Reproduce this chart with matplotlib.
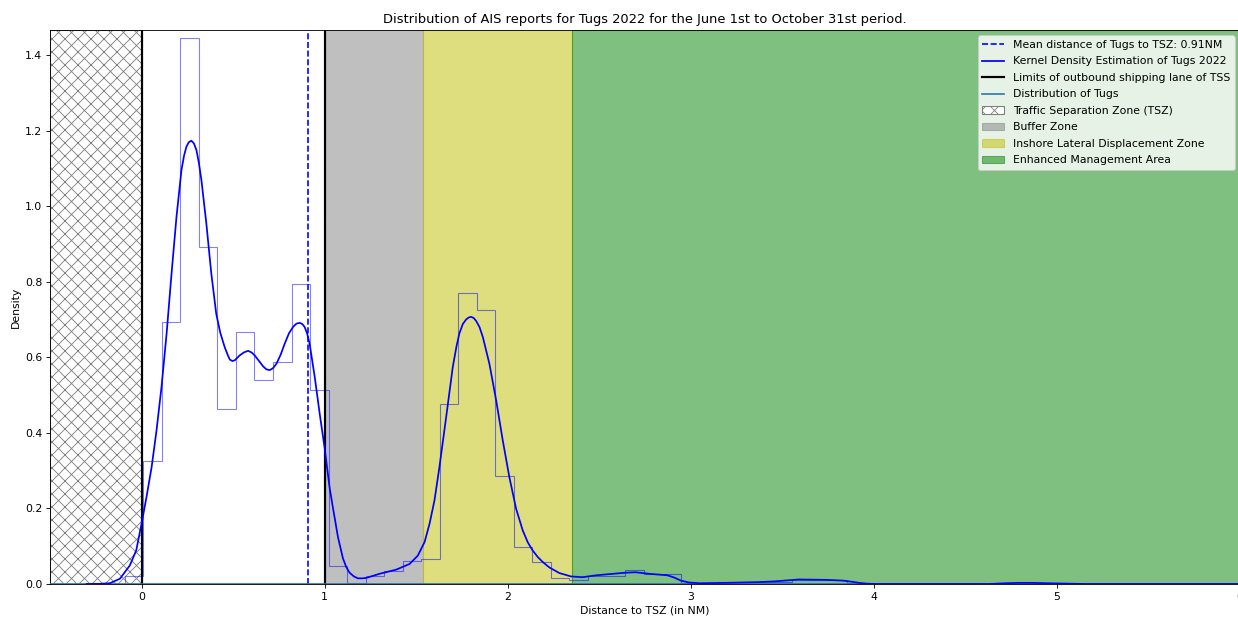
#!/usr/bin/env python3
"""Distribution of AIS reports for Tugs 2022 (June 1st - October 31st) vs distance to TSZ."""

import matplotlib

matplotlib.use("Agg")
import matplotlib.pyplot as plt
import numpy as np

# histogram of distances (density), fixed-width bins
BIN_START = -0.0915
BIN_WIDTH = 0.1012
hist_density = [
    0.020, 0.325, 0.693, 1.445, 0.891, 0.464, 0.667, 0.539, 0.587, 0.793,
    0.514, 0.047, 0.003, 0.021, 0.034, 0.060, 0.066, 0.477, 0.770, 0.724,
    0.287, 0.099, 0.058, 0.016, 0.011, 0.022, 0.022, 0.036, 0.027, 0.027,
    0.002, 0.002, 0.004, 0.004, 0.004, 0.005, 0.011, 0.011, 0.011, 0.002,
    0.0, 0.0, 0.0, 0.0, 0.0, 0.0, 0.001, 0.002, 0.002, 0.002, 0.001,
]

# kernel density estimate
kde_x = [
    -0.30, -0.227, -0.173, -0.118, -0.064, -0.029, 0.0, 0.027, 0.055, 0.082,
    0.109, 0.137, 0.164, 0.191, 0.218, 0.232, 0.245, 0.258, 0.272, 0.286,
    0.300, 0.313, 0.327, 0.354, 0.381, 0.408, 0.430, 0.454, 0.470, 0.482,
    0.496, 0.509, 0.522, 0.536, 0.560, 0.582, 0.600, 0.618, 0.640, 0.664,
    0.682, 0.700, 0.718, 0.737, 0.760, 0.782, 0.805, 0.827, 0.846, 0.864,
    0.878, 0.891, 0.905, 0.918, 0.946, 0.973, 1.000, 1.027, 1.045, 1.073,
    1.100, 1.118, 1.136, 1.160, 1.182, 1.205, 1.227, 1.300, 1.391, 1.464,
    1.509, 1.546, 1.573, 1.600, 1.627, 1.664, 1.700, 1.720, 1.736, 1.755,
    1.773, 1.786, 1.800, 1.814, 1.828, 1.846, 1.864, 1.900, 1.937, 1.973,
    2.009, 2.046, 2.082, 2.110, 2.136, 2.165, 2.192, 2.227, 2.282, 2.346,
    2.409, 2.482, 2.573, 2.646, 2.700, 2.773, 2.873, 2.910, 2.946, 2.990,
    3.046, 3.190, 3.370, 3.460, 3.590, 3.740, 3.830, 3.880, 3.920, 3.960,
    4.010, 4.300, 4.630, 4.720, 4.790, 4.870, 4.950, 5.160, 5.500, 6.000,
]
kde_y = [
    0.0, 0.0005, 0.002, 0.014, 0.049, 0.089, 0.159, 0.230, 0.309, 0.407,
    0.521, 0.663, 0.822, 0.972, 1.095, 1.133, 1.157, 1.169, 1.173, 1.166,
    1.148, 1.115, 1.069, 0.954, 0.822, 0.715, 0.665, 0.627, 0.607, 0.594,
    0.590, 0.592, 0.598, 0.605, 0.613, 0.617, 0.613, 0.605, 0.591, 0.576,
    0.568, 0.566, 0.571, 0.583, 0.607, 0.636, 0.663, 0.680, 0.689, 0.691,
    0.688, 0.680, 0.662, 0.636, 0.548, 0.451, 0.360, 0.256, 0.203, 0.124,
    0.068, 0.045, 0.030, 0.020, 0.015, 0.015, 0.016, 0.027, 0.038, 0.053,
    0.075, 0.111, 0.159, 0.221, 0.309, 0.442, 0.574, 0.628, 0.663, 0.688,
    0.700, 0.705, 0.707, 0.704, 0.696, 0.680, 0.654, 0.583, 0.486, 0.380,
    0.283, 0.199, 0.142, 0.110, 0.089, 0.071, 0.058, 0.044, 0.029, 0.020,
    0.018, 0.023, 0.027, 0.030, 0.031, 0.027, 0.023, 0.017, 0.009, 0.004,
    0.002, 0.003, 0.005, 0.007, 0.012, 0.011, 0.009, 0.006, 0.003, 0.001,
    0.0, 0.0, 0.0, 0.002, 0.003, 0.003, 0.002, 0.0, 0.0, 0.0,
]

mean_distance = 0.91
lane_limits = [0.0, 1.0]
tsz_zone = (-0.5, 0.0)
buffer_zone = (1.0, 1.54)
inshore_zone = (1.54, 2.35)
ema_zone = (2.35, 6.5)

W, H = 1238, 620
DPI = 78.3


def main() -> int:
    plt.rcParams["hatch.linewidth"] = 0.8
    fig = plt.figure(figsize=(W / DPI, H / DPI), dpi=DPI)
    ax = fig.add_axes([50 / W, 36 / H, 1190 / W, 554 / H])

    ax.axvspan(*tsz_zone, facecolor="white", edgecolor="gray", hatch="xx",
               linewidth=1.0, label="Traffic Separation Zone (TSZ)", zorder=0)
    ax.axvspan(*buffer_zone, color="gray", alpha=0.5, label="Buffer Zone", zorder=0)
    ax.axvspan(*inshore_zone, color="y", alpha=0.5, label="Inshore Lateral Displacement Zone", zorder=0)
    ax.axvspan(*ema_zone, color="g", alpha=0.5, label="Enhanced Management Area", zorder=0)

    edges = BIN_START + BIN_WIDTH * np.arange(len(hist_density) + 1)
    ax.stairs(hist_density, edges, color="blue", alpha=0.5, linewidth=1.0, zorder=2)

    ax.axvline(mean_distance, color="blue", linestyle="--", linewidth=1.5,
               label=f"Mean distance of Tugs to TSZ: {mean_distance:.2f}NM", zorder=3)
    ax.plot(kde_x, kde_y, color="blue", linewidth=1.6,
            label="Kernel Density Estimation of Tugs 2022", zorder=4)
    for i, x in enumerate(lane_limits):
        ax.axvline(x, color="black", linewidth=2.0,
                   label="Limits of outbound shipping lane of TSS" if i == 0 else None, zorder=3)
    ax.axhline(0.0, color="C0", linewidth=1.5, label="Distribution of Tugs", zorder=3)

    ax.set_xlim(-0.5, 6.0)
    ax.set_ylim(0.0, 1.466)
    ax.set_xticks([0, 1, 2, 3, 4, 5, 6])
    ax.set_yticks(np.arange(0.0, 1.41, 0.2))
    ax.set_xlabel("Distance to TSZ (in NM)")
    ax.set_ylabel("Density")
    ax.set_title("Distribution of AIS reports for Tugs 2022 for the June 1st to October 31st period.")

    handles, labels = ax.get_legend_handles_labels()
    order = [
        "Mean distance of Tugs to TSZ: 0.91NM",
        "Kernel Density Estimation of Tugs 2022",
        "Limits of outbound shipping lane of TSS",
        "Distribution of Tugs",
        "Traffic Separation Zone (TSZ)",
        "Buffer Zone",
        "Inshore Lateral Displacement Zone",
        "Enhanced Management Area",
    ]
    lookup = dict(zip(labels, handles))
    ax.legend([lookup[k] for k in order], order, loc="upper right", labelspacing=0.6)

    fig.savefig("out.png", dpi=DPI)
    plt.close(fig)
    return 0


if __name__ == "__main__":
    raise SystemExit(main())
